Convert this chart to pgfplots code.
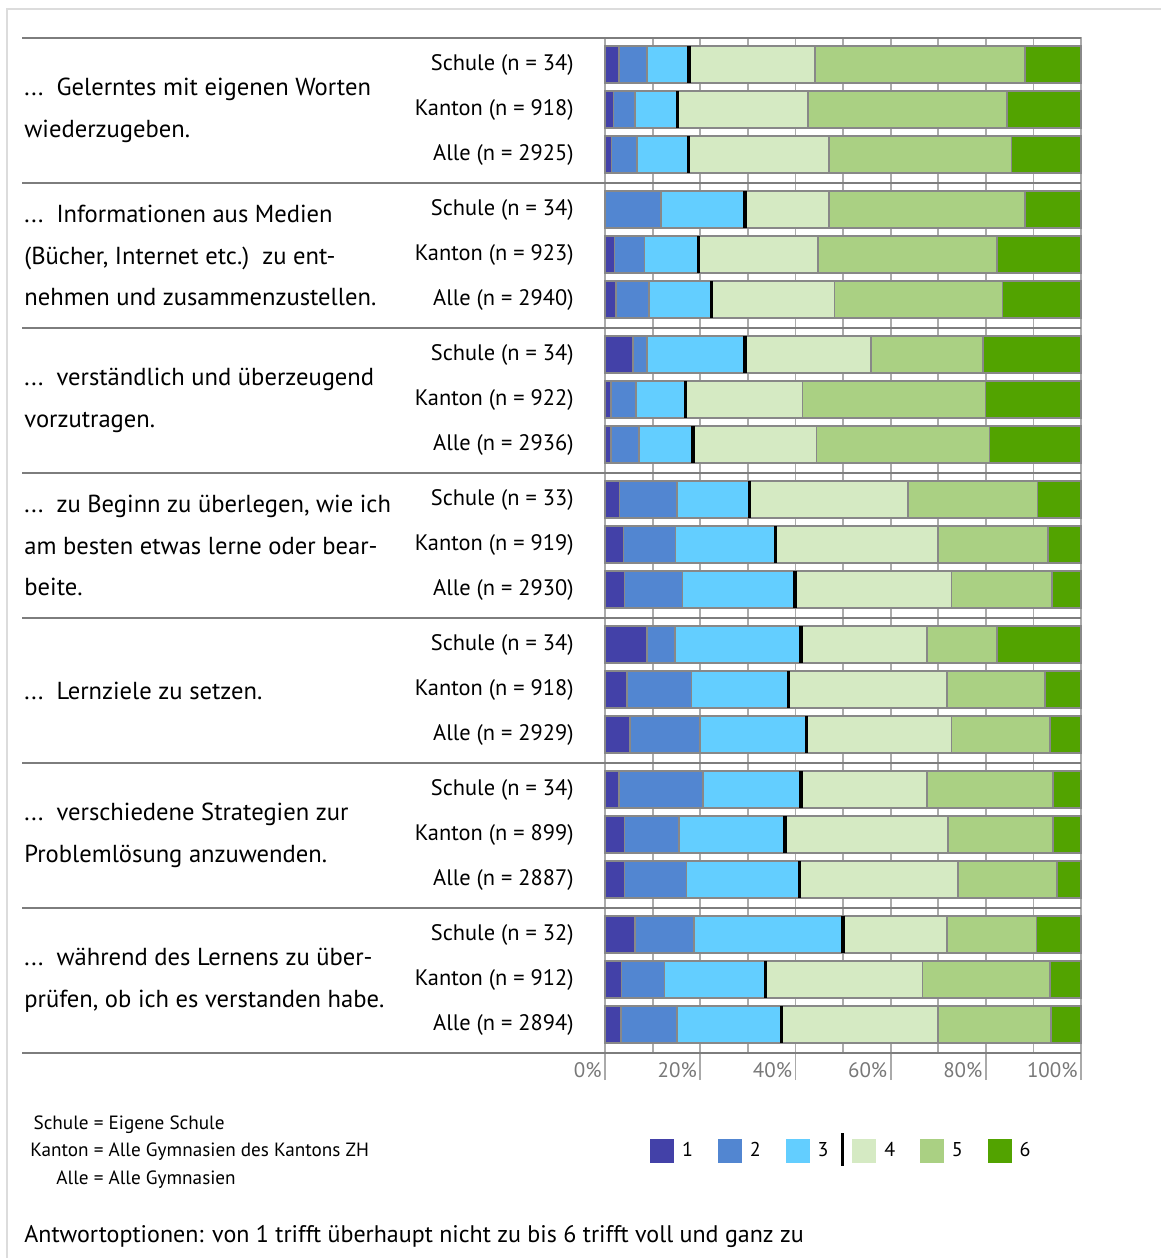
\documentclass[border=0pt]{standalone}
\usepackage{pgfplots}
\pgfplotsset{compat=1.18}
\usepackage{pgfplotstable}
\usepackage{fontspec}
\setmainfont{PT Sans}
\definecolor{c1}{RGB}{67,65,168}
\definecolor{c2}{RGB}{82,134,209}
\definecolor{c3}{RGB}{99,206,255}
\definecolor{c4}{RGB}{213,234,195}
\definecolor{c5}{RGB}{170,208,131}
\definecolor{c6}{RGB}{82,163,0}
\definecolor{bord}{RGB}{136,136,136}
\definecolor{sepc}{RGB}{125,125,125}
\definecolor{gridc}{RGB}{170,170,170}
\definecolor{framec}{RGB}{220,220,220}
\definecolor{tickc}{RGB}{120,120,120}

\pgfplotstableread[col sep=comma]{
y,lab,a1,a2,a3,a4,a5,a6
-64.5,Schule (n = 34),2.94,5.88,8.82,26.47,44.12,11.76
-109.5,Kanton (n = 918),1.8,4.5,8.9,27.5,41.8,15.5
-154.5,Alle (n = 2925),1.4,5.3,10.8,29.6,38.3,14.6
-209.5,Schule (n = 34),0,11.76,17.65,17.65,41.18,11.76
-254.5,Kanton (n = 923),2.0,6.3,11.4,25.1,37.6,17.6
-299.5,Alle (n = 2940),2.3,6.9,13.1,25.9,35.3,16.5
-354.5,Schule (n = 34),5.88,2.94,20.59,26.47,23.53,20.59
-399.5,Kanton (n = 922),1.3,5.2,10.4,24.6,38.4,20.1
-444.5,Alle (n = 2936),1.2,5.9,11.4,25.9,36.4,19.2
-499.5,Schule (n = 33),3.03,12.12,15.15,33.33,27.27,9.09
-544.5,Kanton (n = 919),3.9,10.9,21.1,34.1,23.1,6.9
-589.5,Alle (n = 2930),4.1,12.2,23.6,32.9,21.1,6.1
-644.5,Schule (n = 34),8.82,5.88,26.47,26.47,14.71,17.65
-689.5,Kanton (n = 918),4.6,13.6,20.3,33.3,20.6,7.6
-734.5,Alle (n = 2929),5.2,14.8,22.4,30.4,20.7,6.5
-789.5,Schule (n = 34),2.94,17.65,20.59,26.47,26.47,5.88
-834.5,Kanton (n = 899),4.1,11.5,22.2,34.3,22.0,5.9
-879.5,Alle (n = 2887),4.1,13.0,23.7,33.4,20.8,5.0
-934.5,Schule (n = 32),6.25,12.5,31.25,21.88,18.75,9.38
-979.5,Kanton (n = 912),3.5,9.0,21.3,32.9,26.8,6.5
-1024.5,Alle (n = 2894),3.4,11.7,22.0,32.9,23.7,6.3
}\data

\newcommand\labfont{\fontsize{12.3}{20.75}\selectfont}

\begin{document}
\begin{tikzpicture}
\useasboundingbox (0pt,0pt) rectangle (580.5pt,-629pt);
\begin{axis}[
  at={(302.5pt,-19pt)}, anchor=north west,
  scale only axis, width=238pt, height=507.5pt,
  xbar stacked, bar width=37,
  xmin=0, xmax=100, ymin=-1053, ymax=-38,
  axis line style={draw=gridc, line width=0.8pt},
  xtick={0,20,...,100}, minor xtick={10,30,...,90},
  xmajorgrids, xminorgrids,
  major grid style={draw=gridc, line width=0.9pt},
  minor grid style={draw=gridc, line width=0.9pt},
  tick align=outside, xtick pos=bottom, ytick pos=left,
  major tick length=13.5pt, minor tick length=0pt,
  x tick style={draw=gridc, line width=0.9pt},
  y tick style={draw=none},
  /pgf/number format/assume math mode=true,
  xticklabel={\pgfmathprintnumber{\tick}\%},
  xticklabel style={font=\fontsize{10.5}{13}\selectfont, text=tickc, anchor=base east, inner sep=0pt, xshift=-1.5pt, yshift=1.5pt},
  ytick=data, yticklabels from table={\data}{lab},
  yticklabel style={font=\fontsize{11.2}{13}\selectfont, anchor=east, inner sep=0pt, xshift=-2pt},
  clip=false,
  legend style={at={(axis cs:9.45,-1150.5)}, anchor=west, draw=none, fill=none, inner sep=0pt,
    font=\fontsize{10}{12}\selectfont, legend columns=-1,
    nodes={inner sep=0pt},
    /tikz/every odd column/.append style={column sep=4pt},
    /tikz/every even column/.append style={column sep=12.5pt}},
]
\addplot[fill=c1, draw=bord, line width=0.8pt, forget plot] table[x=a1,y=y]{\data};
\addplot[fill=c2, draw=bord, line width=0.8pt, forget plot] table[x=a2,y=y]{\data};
\addplot[fill=c3, draw=bord, line width=0.8pt, forget plot] table[x=a3,y=y]{\data};
\addplot[fill=c4, draw=bord, line width=0.8pt, forget plot] table[x=a4,y=y]{\data};
\addplot[fill=c5, draw=bord, line width=0.8pt, forget plot] table[x=a5,y=y]{\data};
\addplot[fill=c6, draw=bord, line width=0.8pt, forget plot] table[x=a6,y=y]{\data};
\addlegendimage{legend image code/.code={\fill[c1] (0pt,-5.75pt) rectangle (11.5pt,5.75pt);}}
\addlegendentry{1}
\addlegendimage{legend image code/.code={\fill[c2] (0pt,-5.75pt) rectangle (11.5pt,5.75pt);}}
\addlegendentry{2}
\addlegendimage{legend image code/.code={\fill[c3] (0pt,-5.75pt) rectangle (11.5pt,5.75pt);}}
\addlegendentry{3\kern6.5pt\smash{\rule[-4.75pt]{1.5pt}{16.5pt}}\kern-8.5pt}
\addlegendimage{legend image code/.code={\fill[c4] (0pt,-5.75pt) rectangle (11.5pt,5.75pt);}}
\addlegendentry{4}
\addlegendimage{legend image code/.code={\fill[c5] (0pt,-5.75pt) rectangle (11.5pt,5.75pt);}}
\addlegendentry{5}
\addlegendimage{legend image code/.code={\fill[c6] (0pt,-5.75pt) rectangle (11.5pt,5.75pt);}}
\addlegendentry{6}
\end{axis}
\begin{axis}[
  at={(302.5pt,-19pt)}, anchor=north west,
  scale only axis, width=238pt, height=507.5pt,
  xmin=0, xmax=100, ymin=-1053, ymax=-38,
  hide axis, clip=false]
\addplot[only marks, mark=|, mark size=9.25pt, mark options={draw=black, line width=1.6pt}]
  table[x expr=\thisrow{a1}+\thisrow{a2}+\thisrow{a3}, y=y]{\data};
\end{axis}
\begin{scope}[x=0.5pt,y=-0.5pt]
  \draw[framec, line width=1pt] (1161,9) -- (7,9) -- (7,1258);
  \foreach \yy in {38,183,328,473,618,763,908,1053}
    \draw[sepc, line width=0.8pt] (22,\yy) -- (1081,\yy);
  \begin{scope}[every node/.style={anchor=west, align=left, inner sep=0pt, font=\labfont}]
  \node at (24,110.5) {...\ \ Gelerntes mit eigenen Worten\\wiederzugeben.};
  \node at (24,255.5) {...\ \ Informationen aus Medien\\(Bücher, Internet etc.)\ \ zu ent-\\nehmen und zusammenzustellen.};
  \node at (24,400.5) {...\ \ verständlich und überzeugend\\vorzutragen.};
  \node at (24,545.5) {...\ \ zu Beginn zu überlegen, wie ich\\am besten etwas lerne oder bear-\\beite.};
  \node at (24,690.5) {...\ \ Lernziele zu setzen.};
  \node at (24,835.5) {...\ \ verschiedene Strategien zur\\Problemlösung anzuwenden.};
  \node at (24,980.5) {...\ \ während des Lernens zu über-\\prüfen, ob ich es verstanden habe.};
  \end{scope}
  \node[anchor=west, inner sep=0pt, font=\fontsize{9.6}{13.75}\selectfont] at (30,1151)
    {\begin{tabular}{@{}r@{ = }l@{}}Schule & Eigene Schule\\Kanton & Alle Gymnasien des Kantons ZH\\Alle & Alle Gymnasien\end{tabular}};
  \node[anchor=west, inner sep=0pt, font=\fontsize{12}{14}\selectfont] at (24,1236)
    {Antwortoptionen: von 1 trifft überhaupt nicht zu bis 6 trifft voll und ganz zu};
\end{scope}
\end{tikzpicture}
\end{document}
